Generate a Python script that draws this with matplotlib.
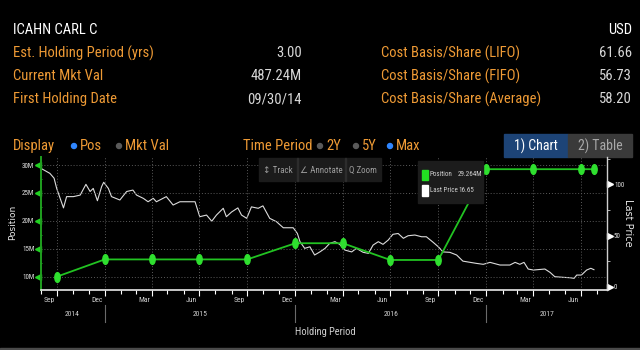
import matplotlib
matplotlib.use("Agg")
import matplotlib.pyplot as plt
import matplotlib.dates as mdates
import matplotlib.ticker as ticker
from matplotlib import font_manager
from matplotlib.patches import Rectangle, Ellipse
from matplotlib.path import Path
import pandas as pd

# pick a narrow face if one is installed, bloomberg text is condensed
have = {f.name for f in font_manager.fontManager.ttflist}
narrow = next((n for n in ['Liberation Sans Narrow', 'Roboto Condensed'] if n in have), 'Liberation Sans')
plt.rcParams['font.family'] = [narrow, 'DejaVu Sans']

# header data
holder = 'ICAHN CARL C'
currency = 'USD'
left_labels = ['Est. Holding Period (yrs)', 'Current Mkt Val', 'First Holding Date']
left_values = ['3.00', '487.24M', '09/30/14']
right_labels = ['Cost Basis/Share (LIFO)', 'Cost Basis/Share (FIFO)', 'Cost Basis/Share (Average)']
right_values = ['61.66', '56.73', '58.20']

# position (millions of shares), quarterly filings
pos_dates = ['2014-09-30', '2014-12-31', '2015-03-31', '2015-06-30', '2015-09-30',
             '2015-12-31', '2016-03-31', '2016-06-30', '2016-09-30', '2016-12-31',
             '2017-03-31', '2017-06-30', '2017-07-25']
pos_vals = [10.0, 13.1, 13.1, 13.1, 13.1, 16.0, 16.0, 13.0, 13.0, 29.264, 29.264, 29.264, 29.264]

# last price
price_dates = [
    '2014-09-02', '2014-09-17', '2014-09-25', '2014-09-30', '2014-10-13', '2014-10-19',
    '2014-11-01', '2014-11-14', '2014-11-25', '2014-12-03', '2014-12-09', '2014-12-17',
    '2014-12-25', '2014-12-29', '2015-01-07', '2015-01-13', '2015-01-29', '2015-02-11',
    '2015-02-23', '2015-03-02', '2015-03-15', '2015-03-24', '2015-04-03', '2015-04-09',
    '2015-04-28', '2015-05-11', '2015-05-24', '2015-05-30', '2015-06-22', '2015-07-01',
    '2015-07-14', '2015-07-24', '2015-08-02', '2015-08-15', '2015-08-21', '2015-08-31',
    '2015-09-12', '2015-09-19', '2015-09-29', '2015-10-08', '2015-10-21', '2015-10-30',
    '2015-11-12', '2015-11-25', '2015-12-08', '2015-12-27', '2016-01-04', '2016-01-09',
    '2016-01-18', '2016-01-28', '2016-02-06', '2016-02-16', '2016-02-26', '2016-03-06',
    '2016-03-16', '2016-03-25', '2016-04-04', '2016-04-17', '2016-04-26', '2016-05-09',
    '2016-05-19', '2016-05-28', '2016-06-07', '2016-06-16', '2016-06-26', '2016-07-05',
    '2016-07-15', '2016-07-25', '2016-08-03', '2016-08-16', '2016-08-29', '2016-09-07',
    '2016-09-20', '2016-09-30', '2016-10-09', '2016-10-22', '2016-11-04', '2016-11-16',
    '2016-12-12', '2016-12-25', '2017-01-07', '2017-01-26', '2017-02-14', '2017-02-24',
    '2017-03-05', '2017-03-13', '2017-03-21', '2017-03-31', '2017-04-22', '2017-05-02',
    '2017-05-11', '2017-05-27', '2017-06-09', '2017-06-17', '2017-06-22', '2017-07-01',
    '2017-07-11', '2017-07-19', '2017-07-25']
price_vals = [
    115, 110.7, 106, 96, 77, 88,
    88, 89.5, 100, 93, 96, 84,
    97.7, 102, 96, 88, 84.7, 93,
    94.4, 89.5, 86.3, 83, 86.3, 83,
    88, 79.8, 83, 83, 83, 68.4,
    70, 64, 70, 76.6, 68.4, 73,
    77, 70, 66.8, 78, 76.6, 79,
    66.8, 63.5, 57.6, 57.6, 52, 44,
    37.5, 39, 31, 34, 37.5, 42.4,
    44, 41.4, 35.8, 34, 37.5, 33.6,
    32.6, 40.7, 44, 41.4, 45.6, 51.2,
    52, 47.3, 49.8, 50.5, 48.8, 48.8,
    43.4, 39, 34, 33.6, 31, 25,
    22.8, 21.9, 23.8, 21.2, 21.2, 23.8,
    21.9, 23.8, 17.3, 16.3, 17.3, 14,
    9.8, 9.2, 8.8, 8.2, 11.4, 11.4,
    16.3, 18, 16.65]

pos_ticks = [10, 15, 20, 25, 30]
price_ticks = [0, 50, 100]

ORANGE = '#ee9a35'
GREY = '#d8d8d8'
GREEN = '#22c322'

W, H = 640, 350
def fx(x):
    return x / W
def fy(y):
    return 1 - y / H

fig = plt.figure(figsize=(6.4, 3.5), dpi=100, facecolor='black')

# ---- header ----
fig.text(fx(13), fy(30), holder, color='white', fontsize=10.5, va='center')
fig.text(fx(632), fy(30), currency, color='white', fontsize=10.5, va='center', ha='right')
for i, (lab, val) in enumerate(zip(left_labels, left_values)):
    yy = fy(53 + 23 * i)
    fig.text(fx(13), yy, lab, color=ORANGE, fontsize=10.5, va='center')
    fig.text(fx(302), yy, val, color=GREY, fontsize=10.5, va='center', ha='right')
for i, (lab, val) in enumerate(zip(right_labels, right_values)):
    yy = fy(53 + 23 * i)
    fig.text(fx(381), yy, lab, color=ORANGE, fontsize=10.5, va='center')
    fig.text(fx(632), yy, val, color=GREY, fontsize=10.5, va='center', ha='right')

# display / time period selector row
row = fy(146)
fig.text(fx(13), row, 'Display', color=ORANGE, fontsize=10.5, va='center')
fig.text(fx(243), row, 'Time Period', color=ORANGE, fontsize=10.5, va='center')
options = [(74, 'Pos', True), (119, 'Mkt Val', False), (320, '2Y', False), (356, '5Y', False), (390, 'Max', True)]
for xd, lab, on in options:
    fig.add_artist(Ellipse((fx(xd), row), 5 / W, 5 / H, transform=fig.transFigure,
                           color='#2f86ff' if on else '#5a5a5a'))
    fig.text(fx(xd + 6), row, lab, color=ORANGE, fontsize=10.5, va='center')

# chart / table buttons
fig.add_artist(Rectangle((fx(504), fy(157)), 64 / W, 23 / H, transform=fig.transFigure,
                         color='#1d4477'))
fig.add_artist(Rectangle((fx(568), fy(157)), 64 / W, 23 / H, transform=fig.transFigure,
                         color='#3a3a3a'))
fig.text(fx(536), fy(146), '1) Chart', color='white', fontsize=10, ha='center', va='center')
fig.text(fx(600), fy(146), '2) Table', color='#a8a8a8', fontsize=10, ha='center', va='center')

# ---- chart ----
ax = fig.add_axes([fx(40.5), fy(289.5), (607 - 40.5) / W, (289.5 - 157) / H])
ax2 = ax.twinx()
ax.set_zorder(2)
ax2.set_zorder(1)
ax.patch.set_visible(False)
ax2.patch.set_visible(False)

pdates = pd.to_datetime(price_dates)
qdates = pd.to_datetime(pos_dates)

ax2.plot(pdates, price_vals, color='#dcdcdc', lw=0.8)

circ = Path.unit_circle()
oval = Path(circ.vertices * [0.55, 1.0], circ.codes)
ax.plot(qdates, pos_vals, color=GREEN, lw=1.3, marker=oval, ms=7,
        markerfacecolor='#2fe02f', markeredgecolor='#2fe02f')

ax.set_ylim(7.71, 31.45)
ax2.set_ylim(-2.7, 126.7)
ax.set_xlim(pd.Timestamp('2014-08-30'), pd.Timestamp('2017-08-19'))

# x ticks: month ends, quarter ends longer and gridded
q_ticks = pd.date_range('2014-09-30', '2017-06-30', freq='QE')
m_ticks = pd.date_range('2014-08-31', '2017-07-31', freq='ME')
ax.set_xticks(q_ticks)
ax.set_xticks(m_ticks, minor=True)
ax.xaxis.set_major_formatter(ticker.NullFormatter())
ax.tick_params(axis='x', which='major', length=4, color='white', width=0.8)
ax.tick_params(axis='x', which='minor', length=3, color='white', width=0.8)

ax.set_yticks(pos_ticks)
ax.yaxis.set_minor_locator(ticker.MultipleLocator(2.5))
ax.yaxis.set_major_formatter(ticker.FuncFormatter(lambda v, p: f'{v:g}M'))
ax.tick_params(axis='y', which='major', length=0, pad=4.5, labelsize=5, labelcolor='#e0e0e0')
ax.tick_params(axis='y', which='minor', length=2, color=GREEN, direction='inout')

ax2.set_yticks(price_ticks)
ax2.yaxis.set_minor_locator(ticker.MultipleLocator(25))
ax2.tick_params(axis='y', which='major', length=0, pad=5, labelsize=5, labelcolor='#e0e0e0')
ax2.tick_params(axis='y', which='minor', length=2, color='#cccccc', direction='out')

ax.grid(True, which='major', color='#5a5a5a', ls=(0, (1, 2)), lw=0.7)
ax.set_axisbelow(True)

for a in (ax, ax2):
    for s in a.spines.values():
        s.set_visible(False)
ax.spines['left'].set_visible(True)
ax.spines['left'].set_color('#1fa01f')
ax.spines['left'].set_linewidth(1.4)
ax.spines['bottom'].set_visible(True)
ax.spines['bottom'].set_color('#e8e8e8')
ax.spines['bottom'].set_linewidth(1.2)
ax2.spines['right'].set_visible(True)
ax2.spines['right'].set_color('#cfcfcf')
ax2.spines['right'].set_linewidth(1.0)

# tick arrows on both value axes
ax.plot([-0.0045] * len(pos_ticks), pos_ticks, ls='none', marker='<', ms=4.5, color='#22d022',
        transform=ax.get_yaxis_transform(), clip_on=False)
ax2.plot([1.006] * len(price_ticks), price_ticks, ls='none', marker='>', ms=4, color='white',
         transform=ax2.get_yaxis_transform(), clip_on=False)

# month labels sit mid-month, years centred between year breaks
xtr = ax.get_xaxis_transform()
for d in q_ticks:
    mid = d - pd.Timedelta(days=15)
    ax.text(mid, -0.082, d.strftime('%b'), transform=xtr, ha='center', va='center',
            fontsize=5.5, color='#cfcfcf')
x0, x1 = ax.get_xlim()
for yr in [2014, 2015, 2016, 2017]:
    a0 = max(x0, mdates.date2num(pd.Timestamp(f'{yr}-01-01')))
    a1 = min(x1, mdates.date2num(pd.Timestamp(f'{yr}-12-31')))
    ax.text((a0 + a1) / 2, -0.185, str(yr), transform=xtr, ha='center', va='center',
            fontsize=5.5, color='#cfcfcf')
    if yr < 2017:
        ax.plot([pd.Timestamp(f'{yr}-12-31')] * 2, [-0.117, -0.245], transform=xtr,
                color='#6a6a6a', lw=0.8, clip_on=False)

fig.text(fx(325), fy(332), 'Holding Period', color='#cfcfcf', fontsize=7.5, ha='center', va='center')
fig.text(fx(13), fy(222), 'Position', color='#e8e8e8', fontsize=6.5, rotation=90,
         ha='center', va='center', family='DejaVu Sans')
fig.text(fx(628), fy(223), 'Last Price', color='#e8e8e8', fontsize=7, rotation=270,
         ha='center', va='center', family='DejaVu Sans')

# track / annotate / zoom toolbar
fig.add_artist(Rectangle((fx(259), fy(181)), 122 / W, 23 / H, transform=fig.transFigure,
                         color='#1b1b1b', zorder=5))
for xs in [297, 345]:
    fig.add_artist(Rectangle((fx(xs), fy(181)), 1 / W, 23 / H, transform=fig.transFigure,
                             color='#2c2c2c', zorder=5))
for xt, lab in [(278, '↕ Track'), (321, '∠ Annotate'), (363, 'Q Zoom')]:
    fig.text(fx(xt), fy(170), lab, color='#9c9c9c', fontsize=6.5, ha='center', va='center', zorder=6,
             family=[narrow, 'DejaVu Sans'])

# hover legend
fig.add_artist(Rectangle((fx(418), fy(203)), 65 / W, 42 / H, transform=fig.transFigure,
                         color='#1c1c1c', zorder=5))
fig.add_artist(Rectangle((fx(421.5), fy(180)), 6 / W, 10 / H, transform=fig.transFigure,
                         color='#22e022', zorder=6))
fig.add_artist(Rectangle((fx(421.5), fy(196)), 6 / W, 11 / H, transform=fig.transFigure,
                         color='white', zorder=6))
fig.text(fx(430), fy(175), 'Position', color='#d0d0d0', fontsize=5, va='center', zorder=7)
fig.text(fx(458), fy(175), f'{pos_vals[-1]:.3f}M', color='#d0d0d0', fontsize=5, va='center', zorder=7)
fig.text(fx(430), fy(190.5), 'Last Price', color='#d0d0d0', fontsize=5, va='center', zorder=7)
fig.text(fx(458), fy(190.5), f'{price_vals[-1]:.2f}', color='#d0d0d0', fontsize=5, va='center', zorder=7)

# thin frame line at the bottom
fig.add_artist(Rectangle((0, 0), 1, 2 / H, transform=fig.transFigure, color='#4a4a4a'))

fig.savefig('out.png', dpi=100, facecolor='black')
